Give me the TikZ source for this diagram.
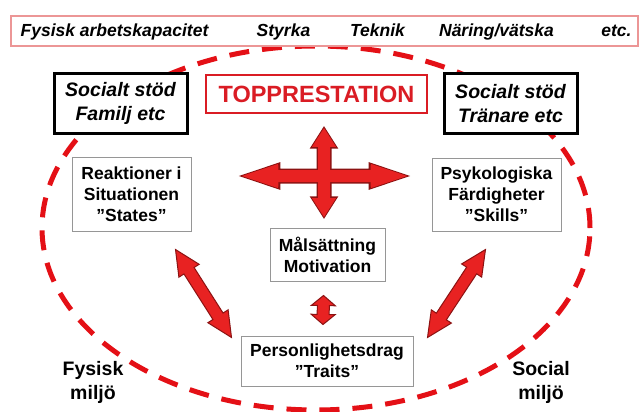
\documentclass[tikz,border=0pt]{standalone}
\usepackage{fontspec}
\setmainfont{Liberation Sans}
\usetikzlibrary{shapes.arrows,calc}
\definecolor{streckrod}{RGB}{228,16,22}
\definecolor{toprod}{RGB}{218,28,36}
\definecolor{pilrod}{RGB}{232,34,34}
\definecolor{pilkant}{RGB}{140,18,18}
\definecolor{ramrod}{RGB}{236,150,150}
\definecolor{gra}{RGB}{150,150,150}

\begin{document}
\begin{tikzpicture}[x=1pt, y=-1pt,
    stod/.style={draw=black, line width=3pt, fill=white, minimum width=133,
      minimum height=59, align=center, inner sep=0pt,
      font=\fontsize{19.5}{24}\selectfont\bfseries\itshape},
    ruta/.style={draw=gra, line width=1pt, fill=white, align=center, inner sep=0pt,
      font=\fontsize{17.5}{21}\selectfont\bfseries},
    miljo/.style={align=center, inner sep=0pt, font=\fontsize{19.5}{24}\selectfont\bfseries},
    radtext/.style={inner sep=0pt, anchor=base, font=\fontsize{17.5}{21}\selectfont\bfseries\itshape},
    pil/.style={double arrow, draw=pilkant, fill=pilrod, line width=1pt, inner xsep=0pt,
      inner ysep=5.5pt, minimum width=23, double arrow head extend=6pt}]
    \useasboundingbox (0,0) rectangle (640,412);
    % dashed ellipse behind everything
    \draw[streckrod, line width=5pt, dash pattern=on 20pt off 13pt]
    (316,228) ellipse [x radius=274pt, y radius=182pt];
    % top row of factors
    \node[draw=ramrod, line width=1.5pt, fill=white, minimum width=627,
    minimum height=30, inner sep=0pt] (rad) at (324.5,31) {};
    \foreach \x/\t [count=\i] in {114.5/Fysisk arbetskapacitet, 283.5/Styrka,
      377.5/Teknik, 496.5/{Näring/vätska}, 616.5/etc.}
    \node[radtext] (faktor\i) at (\x,37) {\t};
    \node[stod] (familj) at (120.5,103.5) {Socialt stöd\\Familj etc};
    \node[stod] (tranare) at (510.5,103.5) {Socialt stöd\\Tränare etc};
    \node[draw=toprod, line width=2.5pt, fill=white, text=toprod, minimum width=221,
    minimum height=38, inner sep=0pt, font=\fontsize{23.5}{28}\selectfont\bfseries]
    (topp) at (316.5,94) {TOPPRESTATION};
    \node[ruta, minimum width=119, minimum height=74] (states) at (131.5,194)
    {Reaktioner i\\Situationen\\”States”};
    \node[ruta, minimum width=129, minimum height=73] (skills) at (496.5,194.5)
    {Psykologiska\\Färdigheter\\”Skills”};
    \node[ruta, minimum width=115, minimum height=53] (mal) at (327.5,254.5)
    {Målsättning\\Motivation};
    \node[ruta, minimum width=172, minimum height=50] (traits) at (327,361)
    {Personlighetsdrag\\”Traits”};
    \node[miljo] (fysisk) at (93,382) {Fysisk\\miljö};
    \node[miljo] (social) at (541,382) {Social\\miljö};
    % cross arrow: outline first, then fill on top
    \foreach \r/\l/\v/\p in {0/165/37/{324.5,176}, 90/89/65/{324,172.5}}
    \node[pil, line width=2pt, rotate=\r, minimum height=\l,
    double arrow tip angle=\v] (kors\r) at (\p) {};
    \foreach \r/\l/\v/\p in {0/165/37/{324.5,176}, 90/89/65/{324,172.5}}
    \node[pil, draw=none, rotate=\r, minimum height=\l,
    double arrow tip angle=\v] at (\p) {};
    % arrows to the traits box
    \coordinate (s1) at ($(states.south east)+(-16,18)$);
    \coordinate (t1) at ($(traits.north west)+(-9,2)$);
    \coordinate (s2) at ($(skills.south west)+(54,18)$);
    \coordinate (t2) at ($(traits.north east)+(14,2)$);
    \coordinate (m1) at ($(mal.south)+(-4,14)$);
    \coordinate (m2) at ($(traits.north)+(-4,-11)$);
    \foreach \a/\b/\v in {s1/t1/51, s2/t2/51, m1/m2/100}
    \path let \p1=($(\b)-(\a)$) in (\a) -- node[pil, sloped,
    minimum height={veclen(\x1,\y1)}, double arrow tip angle=\v] (pil-\a) {} (\b);
\end{tikzpicture}
\end{document}
